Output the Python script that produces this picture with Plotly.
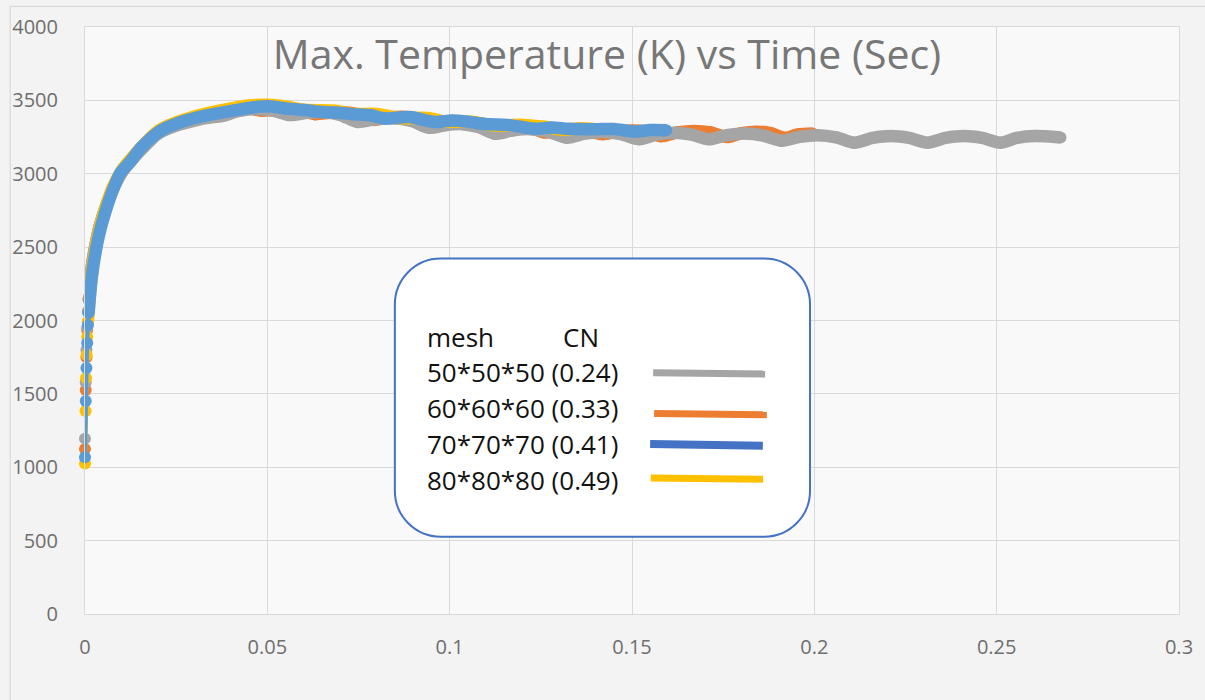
import plotly.graph_objects as go

# ---------------- data: maximum temperature (K) against time (s) ----------------
time_50 = [0, 0.0002, 0.0004, 0.0006, 0.0008, 0.001, 0.0015, 0.002, 0.003, 0.004,
           0.0055, 0.0075, 0.01, 0.013, 0.016, 0.02, 0.025, 0.03, 0.034, 0.0375,
           0.042, 0.047, 0.0517, 0.0563, 0.061, 0.0655, 0.070, 0.0747, 0.0795, 0.0845,
           0.0895, 0.0943, 0.0988, 0.1034, 0.1079, 0.1124, 0.1172, 0.122, 0.127, 0.132,
           0.137, 0.142, 0.147, 0.152, 0.1567, 0.1615, 0.1663, 0.171, 0.176, 0.181,
           0.186, 0.191, 0.196, 0.201, 0.206, 0.211, 0.216, 0.221, 0.226, 0.231,
           0.236, 0.241, 0.246, 0.251, 0.2555, 0.2605, 0.2675]
temp_50 = [1195, 1580, 1800, 1950, 2060, 2140, 2280, 2390, 2530, 2640,
           2760, 2885, 3005, 3100, 3178, 3272, 3328, 3362, 3382, 3392,
           3426, 3442, 3429, 3400, 3415, 3421, 3401, 3353, 3371, 3378,
           3359, 3314, 3331, 3338, 3318, 3273, 3295, 3304, 3287, 3246,
           3273, 3285, 3270, 3235, 3267, 3280, 3267, 3235, 3263, 3275,
           3260, 3225, 3252, 3263, 3248, 3212, 3244, 3257, 3244, 3212,
           3244, 3257, 3244, 3212, 3244, 3257, 3247]

time_60 = [0, 0.0002, 0.0004, 0.0006, 0.0008, 0.001, 0.0015, 0.002, 0.003, 0.004,
           0.0055, 0.0075, 0.01, 0.013, 0.016, 0.02, 0.025, 0.03, 0.035, 0.04,
           0.0445, 0.0487, 0.0525, 0.0558, 0.059, 0.063, 0.067, 0.071, 0.075, 0.079,
           0.083, 0.087, 0.091, 0.095, 0.099, 0.1025, 0.106, 0.110, 0.114, 0.118,
           0.122, 0.126, 0.130, 0.134, 0.138, 0.1417, 0.1457, 0.150, 0.154, 0.158,
           0.1625, 0.167, 0.1715, 0.176, 0.180, 0.184, 0.188, 0.192, 0.1955, 0.1995]
temp_60 = [1125, 1527, 1750, 1936, 2060, 2150, 2290, 2390, 2530, 2640,
           2760, 2890, 3010, 3100, 3185, 3285, 3345, 3380, 3405, 3428,
           3446, 3429, 3438, 3440, 3430, 3406, 3415, 3420, 3405, 3367,
           3382, 3388, 3376, 3335, 3348, 3354, 3342, 3305, 3318, 3324,
           3316, 3281, 3296, 3302, 3294, 3270, 3286, 3294, 3287, 3255,
           3282, 3292, 3282, 3250, 3277, 3287, 3277, 3245, 3268, 3275]

time_70 = [0, 0.0002, 0.0004, 0.0006, 0.0008, 0.001, 0.0014, 0.002, 0.003, 0.004,
           0.0055, 0.0075, 0.0097, 0.0125, 0.0156, 0.0205, 0.026, 0.031, 0.036, 0.041,
           0.046, 0.05, 0.055, 0.06, 0.064, 0.0685, 0.0733, 0.078, 0.0823, 0.089,
           0.096, 0.1006, 0.105, 0.1097, 0.116, 0.1233, 0.128, 0.1326, 0.1397, 0.145,
           0.1507, 0.155, 0.1594]
temp_70 = [1068, 1452, 1677, 1847, 1970, 2052, 2180, 2320, 2480, 2600,
           2733, 2880, 3005, 3085, 3183, 3290, 3350, 3385, 3410, 3432,
           3452, 3460, 3445, 3435, 3422, 3418, 3406, 3400, 3377, 3386,
           3352, 3363, 3355, 3339, 3333, 3306, 3315, 3306, 3303, 3305,
           3288, 3298, 3297]

time_80 = [0, 0.00015, 0.0003, 0.00045, 0.0006, 0.00075, 0.0015, 0.002, 0.003, 0.004,
           0.0055, 0.0075, 0.01, 0.013, 0.016, 0.02, 0.025, 0.03, 0.035, 0.04,
           0.045, 0.05, 0.055, 0.06, 0.0685, 0.073, 0.08, 0.086, 0.094, 0.099,
           0.106, 0.112, 0.12, 0.126, 0.131, 0.136, 0.14]
temp_80 = [1025, 1384, 1608, 1765, 1888, 1990, 2215, 2345, 2510, 2630,
           2760, 2900, 3020, 3112, 3195, 3290, 3350, 3390, 3420, 3445,
           3465, 3470, 3458, 3436, 3430, 3408, 3408, 3380, 3380, 3355,
           3355, 3330, 3333, 3320, 3300, 3310, 3303]

legend_header = ["mesh", "CN"]
legend_labels = ["50*50*50 (0.24)", "60*60*60 (0.33)", "70*70*70 (0.41)", "80*80*80 (0.49)"]
legend_colors = ["#A5A5A5", "#ED7D31", "#4472C4", "#FFC000"]

x_ticks = [0, 0.05, 0.1, 0.15, 0.2, 0.25, 0.3]
y_ticks = [0, 500, 1000, 1500, 2000, 2500, 3000, 3500, 4000]

# ---------------- figure geometry (pixels) ----------------
W, H = 1205, 700
PL, PR, PT, PB = 82, 1179, 26.7, 614
EARLY = 6   # first few widely spaced time steps are drawn as separate dots


def fx(p):
    """pixel x -> paper x"""
    return (p - PL) / (PR - PL)


def fy(p):
    """pixel y -> paper y"""
    return (PB - p) / (PB - PT)


fig = go.Figure()

series = [
    (time_60, temp_60, "#ED7D31"),
    (time_50, temp_50, "#A5A5A5"),
    (time_80, temp_80, "#FFC000"),
    (time_70, temp_70, "#5B9BD5"),
]
for t, T, c in series:
    # start-up steps: thin connector with round markers
    fig.add_trace(go.Scatter(
        x=t[:EARLY + 1], y=T[:EARLY + 1], mode="lines+markers",
        line=dict(color=c, width=4),
        marker=dict(color=c, size=12, line=dict(width=0)),
        cliponaxis=False, showlegend=False, hoverinfo="skip",
    ))
    # dense part of the record: marker band
    fig.add_trace(go.Scatter(
        x=t[EARLY - 1:], y=T[EARLY - 1:], mode="lines+markers",
        line=dict(color=c, width=12.5, shape="spline", smoothing=0.8),
        marker=dict(color=c, size=12, line=dict(width=0)),
        cliponaxis=False, showlegend=False, hoverinfo="skip",
    ))

shapes = []
# outer chart frame
shapes.append(dict(type="rect", xref="paper", yref="paper",
                   x0=fx(7), x1=fx(1215), y0=fy(712), y1=fy(6),
                   line=dict(color="#d9d9d9", width=1.2), fillcolor="rgba(0,0,0,0)",
                   layer="above"))

# rounded text box holding the series key
bl, br, bt, bb, rad = 392.7, 809, 258.3, 536.7, 46
k = 0.5523 * rad


def P(xp, yp):
    return f"{fx(xp):.5f},{fy(yp):.5f}"


path = (
    f"M {P(bl + rad, bt)} L {P(br - rad, bt)} "
    f"C {P(br - rad + k, bt)} {P(br, bt + rad - k)} {P(br, bt + rad)} "
    f"L {P(br, bb - rad)} "
    f"C {P(br, bb - rad + k)} {P(br - rad + k, bb)} {P(br - rad, bb)} "
    f"L {P(bl + rad, bb)} "
    f"C {P(bl + rad - k, bb)} {P(bl, bb - rad + k)} {P(bl, bb - rad)} "
    f"L {P(bl, bt + rad)} "
    f"C {P(bl, bt + rad - k)} {P(bl + rad - k, bt)} {P(bl + rad, bt)} Z"
)
shapes.append(dict(type="path", xref="paper", yref="paper", path=path,
                   line=dict(color="#4472C4", width=2), fillcolor="white", layer="above"))

# key line samples
sample_segments = [
    (651.7, 372.7, 764.0, 374.0, 7),
    (652.7, 413.3, 765.7, 414.7, 7),
    (648.7, 444.0, 761.7, 445.7, 8),
    (649.3, 478.0, 762.0, 479.3, 7),
]
for (x0, y0, x1, y1, w), col in zip(sample_segments, legend_colors):
    shapes.append(dict(type="line", xref="paper", yref="paper",
                       x0=fx(x0), y0=fy(y0), x1=fx(x1), y1=fy(y1),
                       line=dict(color=col, width=w), layer="above"))

annotations = []
key_font = dict(family="Open Sans", size=26, color="#111111")
annotations.append(dict(xref="paper", yref="paper", x=fx(423), y=fy(337),
                        text=legend_header[0], showarrow=False,
                        xanchor="left", yanchor="middle", font=key_font))
annotations.append(dict(xref="paper", yref="paper", x=fx(559), y=fy(337),
                        text=legend_header[1], showarrow=False,
                        xanchor="left", yanchor="middle", font=key_font))
for lbl, yy in zip(legend_labels, [372, 408, 444, 480]):
    annotations.append(dict(xref="paper", yref="paper", x=fx(423), y=fy(yy),
                            text=lbl, showarrow=False,
                            xanchor="left", yanchor="middle", font=key_font))

axis_common = dict(
    showgrid=True, gridcolor="#d9d9d9", gridwidth=1,
    zeroline=False, showline=True, linecolor="#d9d9d9", linewidth=1, mirror=True,
    ticks="", tickfont=dict(family="Open Sans", size=20, color="#6e6e6e"),
)

fig.update_layout(
    width=W, height=H,
    margin=dict(l=PL, r=W - PR, t=PT, b=H - PB, pad=0),
    paper_bgcolor="#f3f3f3",
    plot_bgcolor="#f9f9f9",
    title=dict(text="Max. Temperature (K) vs Time (Sec)",
               x=607 / W, xref="container", xanchor="center",
               y=1 - 55 / H, yref="container", yanchor="middle",
               font=dict(family="Open Sans", size=41, color="#777777")),
    xaxis=dict(range=[0, 0.3], tickvals=x_ticks, ticklabelstandoff=15, **axis_common),
    yaxis=dict(range=[0, 4000], tickvals=y_ticks, ticklabelstandoff=22, **axis_common),
    shapes=shapes,
    annotations=annotations,
)

fig.write_html("out.html")
